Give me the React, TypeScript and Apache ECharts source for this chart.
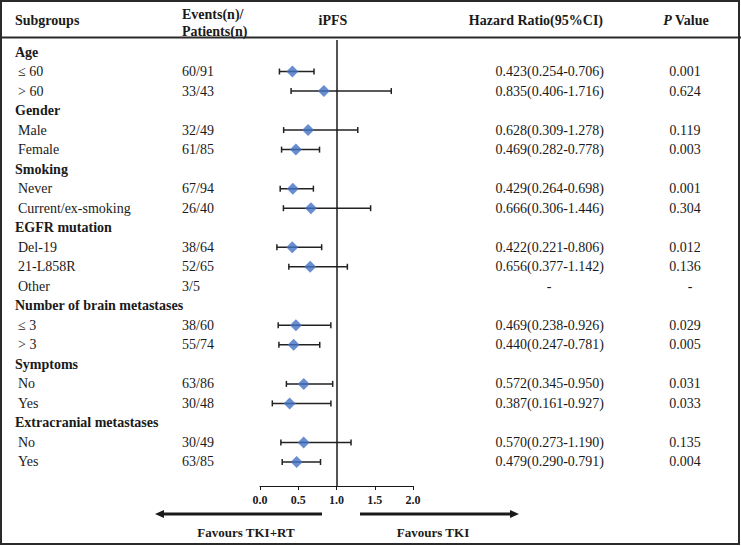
import React, { useEffect, useRef } from "react";
import * as echarts from "echarts";

const rowLabels = ["Age", "≤ 60", "> 60", "Gender", "Male", "Female", "Smoking", "Never", "Current/ex-smoking", "EGFR mutation", "Del-19", "21-L858R", "Other", "Number of brain metastases", "≤ 3", "> 3", "Symptoms", "No", "Yes", "Extracranial metastases", "No", "Yes"];
const headerRows = [0, 3, 6, 9, 13, 16, 19];
const events = ["", "60/91", "33/43", "", "32/49", "61/85", "", "67/94", "26/40", "", "38/64", "52/65", "3/5", "", "38/60", "55/74", "", "63/86", "30/48", "", "30/49", "63/85"];
const hrValues = [null, 0.423, 0.835, null, 0.628, 0.469, null, 0.429, 0.666, null, 0.422, 0.656, null, null, 0.469, 0.440, null, 0.572, 0.387, null, 0.570, 0.479];
const lowerCI = [null, 0.254, 0.406, null, 0.309, 0.282, null, 0.264, 0.306, null, 0.221, 0.377, null, null, 0.238, 0.247, null, 0.345, 0.161, null, 0.273, 0.290];
const upperCI = [null, 0.706, 1.716, null, 1.278, 0.778, null, 0.698, 1.446, null, 0.806, 1.142, null, null, 0.926, 0.781, null, 0.950, 0.927, null, 1.190, 0.791];
const pValues = ["", "0.001", "0.624", "", "0.119", "0.003", "", "0.001", "0.304", "", "0.012", "0.136", "-", "", "0.029", "0.005", "", "0.031", "0.033", "", "0.135", "0.004"];
const dashRows = [12];
const xTicks = [0, 0.5, 1, 1.5, 2];

const FONT = "'Liberation Serif', 'Times New Roman', serif";
const INK = "#1a1a1a";

export default function App() {
  const ref = useRef<HTMLDivElement>(null);
  useEffect(() => {
    if (!ref.current) return;
    const chart = echarts.init(ref.current, null, { renderer: "svg" });
    const barData: any[] = [];
    const pointData: any[] = [];
    rowLabels.forEach((_, i) => {
      if (hrValues[i] != null) {
        barData.push([lowerCI[i], upperCI[i], i]);
        pointData.push([hrValues[i], i]);
      }
    });
    chart.setOption({
      animation: false,
      backgroundColor: "#ffffff",
      grid: { left: 260, top: 40, width: 153, height: 446 },
      xAxis: {
        type: "value",
        position: "bottom",
        min: xTicks[0],
        max: xTicks[xTicks.length - 1],
        interval: 0.5,
        splitLine: { show: false },
        axisLine: { show: true, onZero: false, lineStyle: { color: INK, width: 1 } },
        axisTick: { show: true, length: 4, lineStyle: { color: INK, width: 1 } },
        axisLabel: {
          margin: 8,
          fontFamily: FONT,
          fontWeight: "bold",
          fontSize: 12,
          color: INK,
          formatter: (v: number) => v.toFixed(1),
        },
      },
      yAxis: {
        type: "value",
        inverse: true,
        min: -0.615,
        max: 22.23,
        show: false,
        splitLine: { show: false },
      },
      series: [
        {
          type: "custom",
          data: barData,
          encode: { x: [0, 1], y: 2 },
          clip: false,
          renderItem: (params: any, api: any) => {
            const row = api.value(2);
            const p1 = api.coord([api.value(0), row]);
            const p2 = api.coord([api.value(1), row]);
            const style = { stroke: "#222", lineWidth: 1.5 };
            return {
              type: "group",
              children: [
                { type: "line", shape: { x1: p1[0], y1: p1[1], x2: p2[0], y2: p2[1] }, style },
                { type: "line", shape: { x1: p1[0], y1: p1[1] - 3, x2: p1[0], y2: p1[1] + 3 }, style },
                { type: "line", shape: { x1: p2[0], y1: p2[1] - 3, x2: p2[0], y2: p2[1] + 3 }, style },
              ],
            };
          },
          markLine: {
            silent: true,
            symbol: "none",
            label: { show: false },
            lineStyle: { color: INK, width: 1.5, type: "solid" },
            data: [{ xAxis: 1 }],
          },
          z: 2,
        },
        {
          type: "scatter",
          data: pointData,
          symbol: "diamond",
          symbolSize: 12,
          itemStyle: { color: "#4472C4" },
          z: 3,
        },
      ],
    });

    const rowY = (i: number) => chart.convertToPixel({ gridIndex: 0 }, [0, i])[1];
    const graphics: any[] = [];
    const txt = (x: number, y: number, text: string, opts: any = {}) => {
      graphics.push({
        type: "text",
        x,
        y,
        style: {
          text,
          fontFamily: FONT,
          fontSize: 14,
          fill: INK,
          verticalAlign: "middle",
          align: opts.align || "left",
          fontWeight: opts.bold ? "bold" : "normal",
          rich: opts.rich,
        },
      });
    };
    // header
    txt(15, 20, "Subgroups", { bold: true });
    txt(182, 14, "Events(n)/", { bold: true });
    txt(182, 31, "Patients(n)", { bold: true });
    txt(333, 20, "iPFS", { bold: true, align: "center" });
    txt(603, 20, "Hazard Ratio(95%CI)", { bold: true, align: "right" });
    txt(686, 20, "{i|P} Value", {
      bold: true,
      align: "center",
      rich: { i: { fontStyle: "italic", fontWeight: "bold", fontFamily: FONT, fontSize: 14, fill: INK } },
    });
    rowLabels.forEach((label, i) => {
      const y = rowY(i);
      const isHeader = headerRows.includes(i);
      txt(isHeader ? 15 : 18, y, label, { bold: isHeader });
      if (events[i]) txt(182, y, events[i]);
      if (hrValues[i] != null) {
        txt(604, y, `${hrValues[i]!.toFixed(3)}(${lowerCI[i]!.toFixed(3)}-${upperCI[i]!.toFixed(3)})`, { align: "right" });
      } else if (dashRows.includes(i)) {
        txt(549, y, "-", { align: "center" });
      }
      if (pValues[i]) txt(pValues[i] === "-" ? 690 : 685, y, pValues[i], { align: "center" });
    });
    // borders
    graphics.push({ type: "rect", shape: { x: 1, y: 1, width: 738, height: 543 }, style: { fill: "none", stroke: "#2a2a2a", lineWidth: 2 } });
    graphics.push({ type: "line", shape: { x1: 0, y1: 37.5, x2: 741, y2: 37.5 }, style: { stroke: "#2a2a2a", lineWidth: 2 } });
    // arrows
    const arrowY = 514;
    graphics.push({ type: "line", shape: { x1: 322, y1: arrowY, x2: 162, y2: arrowY }, style: { stroke: INK, lineWidth: 3 } });
    graphics.push({ type: "polygon", shape: { points: [[155, arrowY], [164, arrowY - 4], [164, arrowY + 4]] }, style: { fill: INK } });
    graphics.push({ type: "line", shape: { x1: 360, y1: arrowY, x2: 512, y2: arrowY }, style: { stroke: INK, lineWidth: 3 } });
    graphics.push({ type: "polygon", shape: { points: [[519, arrowY], [510, arrowY - 4], [510, arrowY + 4]] }, style: { fill: INK } });
    graphics.push({ type: "text", x: 246, y: 532, style: { text: "Favours TKI+RT", fontFamily: FONT, fontSize: 13, fontWeight: "bold", fill: INK, align: "center", verticalAlign: "middle" } });
    graphics.push({ type: "text", x: 433, y: 532, style: { text: "Favours TKI", fontFamily: FONT, fontSize: 13, fontWeight: "bold", fill: INK, align: "center", verticalAlign: "middle" } });

    chart.setOption({ graphic: graphics });
    return () => chart.dispose();
  }, []);
  return <div ref={ref} style={{ position: "fixed", left: 0, top: 0, width: 741, height: 546 }} />;
}
